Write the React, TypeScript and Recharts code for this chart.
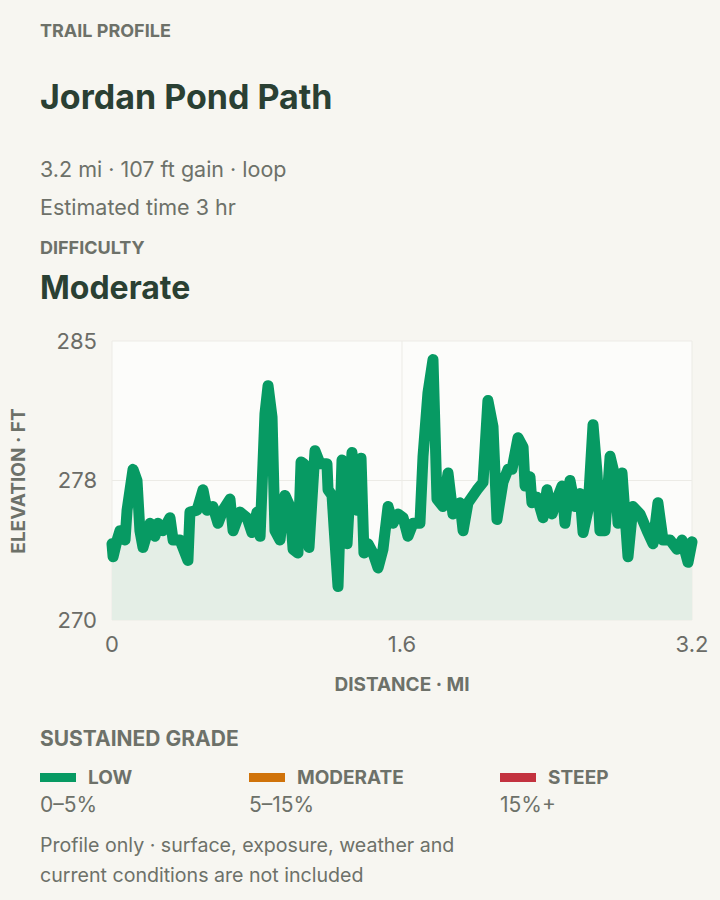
import { Area, AreaChart, CartesianGrid, XAxis, YAxis } from "recharts"

// distance along the trail (mi) and elevation (ft)
const distances = [
  0, 0.006, 0.028, 0.044, 0.072, 0.083, 0.116, 0.138, 0.154, 0.171,
  0.21, 0.237, 0.254, 0.281, 0.32, 0.337, 0.375, 0.419, 0.43, 0.469,
  0.502, 0.524, 0.557, 0.585, 0.612, 0.651, 0.668, 0.706, 0.745, 0.772,
  0.8, 0.817, 0.844, 0.861, 0.883, 0.899, 0.927, 0.954, 0.982, 0.999,
  1.026, 1.043, 1.059, 1.087, 1.12, 1.148, 1.186, 1.192, 1.214, 1.225,
  1.247, 1.269, 1.297, 1.324, 1.352, 1.374, 1.39, 1.412, 1.44, 1.468,
  1.495, 1.523, 1.55, 1.578, 1.606, 1.633, 1.661, 1.699, 1.716, 1.743,
  1.771, 1.793, 1.826, 1.854, 1.881, 1.92, 1.937, 1.964, 2.014, 2.047,
  2.074, 2.102, 2.124, 2.157, 2.185, 2.207, 2.24, 2.268, 2.279, 2.306,
  2.317, 2.345, 2.378, 2.4, 2.428, 2.455, 2.483, 2.499, 2.527, 2.554,
  2.582, 2.599, 2.626, 2.654, 2.676, 2.692, 2.72, 2.748, 2.775, 2.792,
  2.814, 2.847, 2.874, 2.913, 2.952, 2.985, 3.012, 3.04, 3.079, 3.117,
  3.145, 3.178, 3.2,
]

const elevations = [
  274.1, 273.4, 274.3, 274.8, 274.3, 275.9, 278.1, 277.5, 274.8, 273.9,
  275.2, 274.5, 275.2, 274.8, 275.5, 274.3, 274.3, 273.2, 275.8, 275.9,
  277.0, 275.9, 276.1, 275.2, 275.9, 276.5, 274.8, 275.8, 275.5, 274.7,
  275.8, 274.5, 281.1, 282.6, 280.9, 274.8, 274.3, 276.7, 276.1, 273.8,
  273.6, 278.5, 278.4, 273.9, 279.1, 278.4, 278.4, 277.0, 276.7, 275.0,
  271.8, 278.6, 274.1, 279.0, 275.9, 278.7, 273.6, 274.1, 273.6, 272.8,
  273.8, 276.1, 275.2, 275.7, 275.5, 274.5, 275.2, 275.2, 278.8, 282.2,
  284.0, 276.5, 276.1, 277.9, 275.7, 276.3, 274.8, 276.3, 277.0, 277.4,
  281.8, 280.4, 275.4, 277.4, 278.1, 278.1, 279.8, 279.3, 277.2, 277.7,
  276.3, 276.6, 275.5, 277.0, 275.7, 276.5, 277.2, 275.2, 277.5, 276.1,
  276.8, 274.7, 275.9, 280.5, 277.9, 274.8, 274.8, 278.8, 277.7, 275.2,
  277.9, 273.4, 276.1, 275.7, 274.8, 274.1, 276.3, 274.3, 274.3, 273.8,
  274.3, 273.1, 274.2,
]

const xTicks = [0, 1.6, 3.2]
const yTicks = [270, 277.5, 285]

const gradeLabels = ["LOW", "MODERATE", "STEEP"]
const gradeRanges = ["0–5%", "5–15%", "15%+"]
const gradeColors = ["#079a63", "#d0730a", "#c3323f"]

const profile = distances.map((d, i) => ({ d, elev: elevations[i] }))

const muted = "#6d7169"
const dark = "#2a4033"
const font = "Inter, 'Noto Sans', sans-serif"

export default function App() {
  return (
    <div
      style={{
        position: "relative",
        width: 720,
        height: 900,
        background: "#f7f6f1",
        fontFamily: font,
        overflow: "hidden",
      }}
    >
      <style>{"body{margin:0}"}</style>

      <div style={{ position: "absolute", left: 40, top: 30, transform: "translateY(-50%)", fontSize: 18, fontWeight: 700, color: muted }}>
        TRAIL PROFILE
      </div>
      <div style={{ position: "absolute", left: 40, top: 96, transform: "translateY(-50%)", fontSize: 34, fontWeight: 700, color: dark }}>
        Jordan Pond Path
      </div>
      <div style={{ position: "absolute", left: 40, top: 169, transform: "translateY(-50%)", fontSize: 21.5, color: muted }}>
        3.2 mi · 107 ft gain · loop
      </div>
      <div style={{ position: "absolute", left: 40, top: 207, transform: "translateY(-50%)", fontSize: 21.5, color: muted }}>
        Estimated time 3 hr
      </div>
      <div style={{ position: "absolute", left: 40, top: 247, transform: "translateY(-50%)", fontSize: 18, fontWeight: 700, color: muted }}>
        DIFFICULTY
      </div>
      <div style={{ position: "absolute", left: 40, top: 287, transform: "translateY(-50%)", fontSize: 32, fontWeight: 700, color: dark }}>
        Moderate
      </div>

      <div style={{ position: "absolute", left: 0, top: 320 }}>
        <AreaChart width={720} height={380} data={profile} margin={{ top: 21, right: 28, bottom: 0, left: 0 }}>
          <CartesianGrid stroke="#ecebe6" fill="#fcfcfa" />
          <XAxis
            dataKey="d"
            type="number"
            domain={[0, 3.2]}
            ticks={xTicks}
            tickFormatter={(v: number) => (v === 0 ? "0" : v.toFixed(1))}
            height={80}
            axisLine={false}
            tickLine={false}
            tickMargin={10}
            tick={{ fill: "#6b6c67", fontSize: 22 }}
          />
          <YAxis
            type="number"
            domain={[270, 285]}
            ticks={yTicks}
            tickFormatter={(v: number) => String(Math.round(v))}
            width={112}
            axisLine={false}
            tickLine={false}
            tickMargin={9}
            tick={{ fill: "#6b6c67", fontSize: 22 }}
          />
          <Area
            type="linear"
            dataKey="elev"
            stroke="#079a63"
            strokeWidth={11}
            strokeLinejoin="round"
            strokeLinecap="round"
            fill="#e4eee6"
            fillOpacity={1}
            isAnimationActive={false}
          />
        </AreaChart>
      </div>

      <div
        style={{
          position: "absolute",
          left: 18,
          top: 481,
          transform: "translate(-50%, -50%) rotate(-90deg)",
          whiteSpace: "nowrap",
          fontSize: 19,
          fontWeight: 700,
          color: muted,
        }}
      >
        ELEVATION · FT
      </div>
      <div
        style={{
          position: "absolute",
          left: 402,
          top: 684,
          transform: "translate(-50%, -50%)",
          whiteSpace: "nowrap",
          fontSize: 19,
          fontWeight: 700,
          color: muted,
        }}
      >
        DISTANCE · MI
      </div>

      <div style={{ position: "absolute", left: 40, top: 738, transform: "translateY(-50%)", fontSize: 21, fontWeight: 700, color: muted }}>
        SUSTAINED GRADE
      </div>
      {gradeLabels.map((label, i) => (
        <div key={label} style={{ position: "absolute", left: [40, 249, 500][i], top: 764 }}>
          <div style={{ display: "flex", alignItems: "center", height: 26 }}>
            <div style={{ width: 36, height: 9, background: gradeColors[i], marginRight: 12 }} />
            <div style={{ fontSize: 19, fontWeight: 700, color: muted }}>{label}</div>
          </div>
          <div style={{ fontSize: 21, color: muted, marginTop: 2 }}>{gradeRanges[i]}</div>
        </div>
      ))}
      <div style={{ position: "absolute", left: 40, top: 830, fontSize: 19.6, color: muted, lineHeight: "30px" }}>
        Profile only · surface, exposure, weather and
        <br />
        current conditions are not included
      </div>
    </div>
  )
}
